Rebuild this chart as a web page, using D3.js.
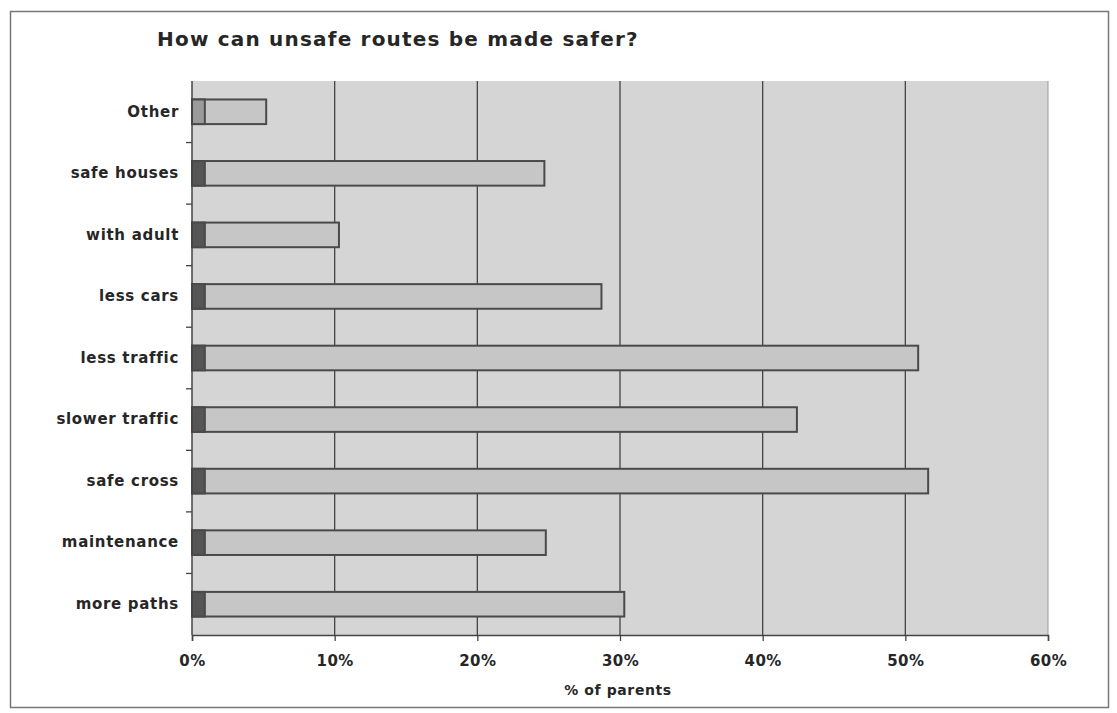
<!DOCTYPE html>
<html>
<head>
<meta charset="utf-8">
<script src="https://cdn.jsdelivr.net/npm/d3@7"></script>
<style>
  body { margin: 0; background: #fff; }
  text { font-family: "DejaVu Sans", "Liberation Sans", Arial, sans-serif; fill: #262626; }
</style>
</head>
<body>
<div id="chart-area"><svg></svg></div>
<script>
const categories = ['Other', 'safe houses', 'with adult', 'less cars', 'less traffic',
  'slower traffic', 'safe cross', 'maintenance', 'more paths'];
// small dark segment at the start of each bar, then the main share
const firstSeries = [0.9, 0.9, 0.9, 0.9, 0.9, 0.9, 0.9, 0.9, 0.9];
const mainSeries = [4.3, 23.8, 9.4, 27.8, 50.0, 41.5, 50.7, 23.9, 29.4];
const xTicks = [0, 10, 20, 30, 40, 50, 60];

const chartSize = { width: 1117, height: 713 };
const margin = { left: 192, right: 69, top: 81, bottom: 78 };
const width = chartSize.width - margin.left - margin.right;
const height = chartSize.height - margin.top - margin.bottom;
const font = '"DejaVu Sans", "Liberation Sans", Arial, sans-serif';

const svg = d3.select('#chart-area svg')
  .attr('width', chartSize.width)
  .attr('height', chartSize.height);

// outer frame of the chart
svg.append('rect')
  .attr('x', 10.5).attr('y', 11.5)
  .attr('width', 1098).attr('height', 696)
  .attr('fill', 'none').attr('stroke', '#777').attr('stroke-width', 1.5);

svg.append('text')
  .attr('x', 157).attr('y', 46)
  .attr('font-size', 20).attr('font-weight', 'bold')
  .attr('letter-spacing', 1.2)
  .text('How can unsafe routes be made safer?');

const g = svg.append('g')
  .attr('transform', `translate(${margin.left},${margin.top})`);

const x = d3.scaleLinear().domain([0, 60]).range([0, width]);
const y = d3.scaleBand().domain(categories).range([0, height])
  .paddingInner(0.6).paddingOuter(0.3);

g.append('rect')
  .attr('width', width).attr('height', height)
  .attr('fill', '#d5d5d5');

g.selectAll('.grid').data(xTicks.slice(1, -1)).enter()
  .append('line')
  .attr('class', 'grid')
  .attr('x1', d => x(d)).attr('x2', d => x(d))
  .attr('y1', 0).attr('y2', height)
  .attr('stroke', '#444').attr('stroke-width', 1.3);

// right edge of plot
g.append('line')
  .attr('x1', width).attr('x2', width).attr('y1', 0).attr('y2', height)
  .attr('stroke', '#999');

const rows = categories.map((c, i) => ({ name: c, a: firstSeries[i], b: mainSeries[i] }));

g.selectAll('.bar').data(rows).enter()
  .append('rect')
  .attr('class', 'bar')
  .attr('x', x(0))
  .attr('y', d => y(d.name))
  .attr('width', d => x(d.a + d.b) - x(0))
  .attr('height', y.bandwidth())
  .attr('fill', '#c6c6c6')
  .attr('stroke', '#4a4a4a').attr('stroke-width', 2);

g.selectAll('.seg').data(rows).enter()
  .append('rect')
  .attr('class', 'seg')
  .attr('x', x(0))
  .attr('y', d => y(d.name))
  .attr('width', d => x(d.a) - x(0))
  .attr('height', y.bandwidth())
  .attr('fill', (d, i) => i === 0 ? '#9a9a9a' : '#555')
  .attr('stroke', '#4a4a4a').attr('stroke-width', 2);

// y axis line, labels and boundary ticks
g.append('line')
  .attr('x1', 0).attr('x2', 0).attr('y1', 0).attr('y2', height)
  .attr('stroke', '#444').attr('stroke-width', 1.5);

const yAxis = d3.axisLeft(y).tickSize(0).tickPadding(13);
const yg = g.append('g').call(yAxis);
yg.select('.domain').remove();
yg.selectAll('text')
  .attr('font-size', 15).attr('font-weight', 'bold')
  .attr('letter-spacing', 0.7)
  .style('font-family', font).attr('fill', '#262626');

const bounds = categories.slice(1).map(c => y(c) - y.step() * y.paddingInner() / 2);
g.selectAll('.ytick').data(bounds).enter()
  .append('line')
  .attr('x1', -6).attr('x2', 0)
  .attr('y1', d => d).attr('y2', d => d)
  .attr('stroke', '#444').attr('stroke-width', 1.3);

// x axis
const xAxis = d3.axisBottom(x).tickValues(xTicks)
  .tickFormat(d => `${d}%`).tickSize(6).tickPadding(14);
const xg = g.append('g')
  .attr('transform', `translate(0,${height})`)
  .call(xAxis);
xg.select('.domain').attr('stroke', '#444').attr('stroke-width', 1.5);
xg.selectAll('line').attr('stroke', '#444').attr('stroke-width', 1.3);
xg.selectAll('text')
  .attr('font-size', 15).attr('font-weight', 'bold')
  .attr('letter-spacing', 0.4)
  .style('font-family', font).attr('fill', '#262626');

g.append('text')
  .attr('x', x(30) - 2).attr('y', height + 60)
  .attr('text-anchor', 'middle')
  .attr('font-size', 14).attr('font-weight', 'bold')
  .attr('letter-spacing', 0.6)
  .text('% of parents');
</script>
</body>
</html>
